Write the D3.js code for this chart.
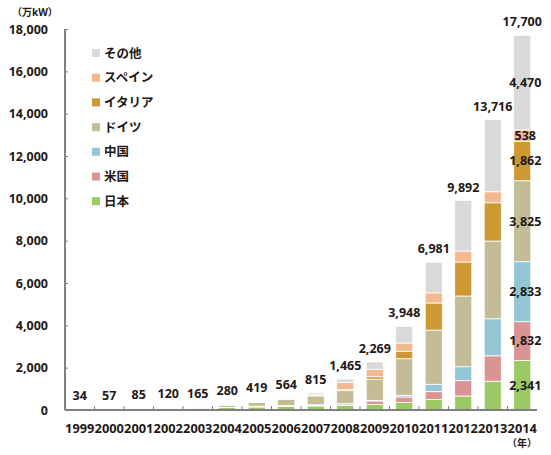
<!DOCTYPE html>
<html>
<head>
<meta charset="utf-8">
<script src="https://cdn.jsdelivr.net/npm/d3@7"></script>
<style>
  body { margin: 0; background: #fff; }
  svg text { font-family: "Open Sans", "Noto Sans CJK JP", sans-serif; font-weight: bold; fill: #231815; }
</style>
</head>
<body>
<svg id="chart" width="551" height="455"></svg>
<script>
// Cumulative PV capacity (万kW)
const years = ["1999","2000","2001","2002","2003","2004","2005","2006","2007","2008","2009","2010","2011","2012","2013","2014"];
const totals = [34, 57, 85, 120, 165, 280, 419, 564, 815, 1465, 2269, 3948, 6981, 9892, 13716, 17700];

const japan   = [21, 33, 45, 64, 86, 113, 142, 171, 192, 214, 263, 362, 491, 663, 1360, 2341];
const usa     = [2, 3, 4, 6, 8, 11, 29, 30, 45, 73, 164, 253, 375, 722, 1200, 1832];
const china   = [0, 0, 0, 0, 0, 0, 7, 8, 10, 14, 30, 80, 350, 660, 1750, 2833];
const germany = [7, 11, 19, 30, 44, 107, 193, 290, 417, 612, 996, 1728, 2560, 3340, 3670, 3825];
const italy   = [1, 2, 2, 2, 3, 3, 4, 5, 12, 46, 118, 350, 1280, 1606, 1810, 1862];
const spain   = [0, 0, 0, 1, 1, 2, 4, 15, 70, 340, 350, 390, 480, 520, 520, 538];
const other   = [3, 8, 15, 17, 23, 44, 40, 45, 69, 166, 348, 785, 1445, 2381, 3406, 4470];

const seriesNames = ["日本", "米国", "中国", "ドイツ", "イタリア", "スペイン", "その他"];
const seriesColors = ["#9bca64", "#d99594", "#92c6d5", "#c4bc96", "#cc9933", "#f4b98e", "#d9d9d9"];
const seriesValues = [japan, usa, china, germany, italy, spain, other];

const yTicks = [0, 2000, 4000, 6000, 8000, 10000, 12000, 14000, 16000, 18000];

const svg = d3.select("#chart");
const margin = { left: 65, right: 14, top: 29, bottom: 45 };
const width = 551 - margin.left - margin.right;
const height = 455 - margin.top - margin.bottom;

const g = svg.append("g").attr("transform", `translate(${margin.left},${margin.top})`);

const x = d3.scaleBand().domain(years).range([0, width]).paddingInner(0.42).paddingOuter(0.21);
const y = d3.scaleLinear().domain([0, 18000]).range([height, 0]);

// build table for the stack
const table = years.map((yr, i) => {
    const row = { year: yr };
    seriesNames.forEach((s, k) => { row[s] = seriesValues[k][i]; });
    return row;
});
const stacked = d3.stack().keys(seriesNames)(table);

// bars
g.selectAll(".layer")
    .data(stacked)
    .enter()
    .append("g")
    .attr("class", "layer")
    .attr("fill", (d, i) => seriesColors[i])
    .selectAll("rect")
    .data(d => d)
    .enter()
    .append("rect")
    .attr("x", d => x(d.data.year))
    .attr("width", x.bandwidth())
    .attr("y", d => y(d[1]))
    .attr("height", d => Math.max(0, y(d[0]) - y(d[1])))
    .attr("stroke", "#fff")
    .attr("stroke-width", 0.8);

// y axis
const yAxis = d3.axisLeft(y).tickValues(yTicks).tickSize(-3).tickFormat(d3.format(",")).tickPadding(17);
const ya = g.append("g").call(yAxis);
ya.select(".domain").attr("stroke", "#808080").attr("stroke-width", 2).attr("d", `M0,0V${height}`);
ya.selectAll(".tick line").attr("stroke", "#808080").attr("stroke-width", 1);
ya.selectAll(".tick text").attr("font-size", "12.5px").attr("fill", "#231815");

// x axis
const xa = g.append("g").attr("transform", `translate(0,${height})`)
    .call(d3.axisBottom(x).tickSize(0).tickPadding(14));
xa.select(".domain").attr("stroke", "#808080").attr("stroke-width", 2).attr("d", `M0,0H${width}`);
xa.selectAll(".tick text").attr("font-size", "12.8px").attr("fill", "#231815");

// boundary ticks on x axis
const step = x.step();
g.append("g").selectAll("line")
    .data(years.slice(1))
    .enter()
    .append("line")
    .attr("x1", d => x(d) - (step - x.bandwidth()) / 2)
    .attr("x2", d => x(d) - (step - x.bandwidth()) / 2)
    .attr("y1", height)
    .attr("y2", height - 4)
    .attr("stroke", "#808080")
    .attr("stroke-width", 1);

// total labels
g.append("g").selectAll("text")
    .data(years)
    .enter()
    .append("text")
    .attr("x", d => x(d) + x.bandwidth() / 2)
    .attr("y", (d, i) => y(totals[i]) - 9)
    .attr("text-anchor", "middle")
    .attr("font-size", "12.5px")
    .text((d, i) => d3.format(",")(totals[i]));

// segment labels for last year
const last = years.length - 1;
g.append("g").selectAll("text")
    .data(stacked)
    .enter()
    .append("text")
    .attr("x", x(years[last]) + x.bandwidth() / 2 + 3)
    .attr("y", d => y((d[last][0] + d[last][1]) / 2))
    .attr("dy", "0.35em")
    .attr("text-anchor", "middle")
    .attr("font-size", "12.5px")
    .text(d => d3.format(",")(d[last].data[d.key]));

// legend
const legendNames = seriesNames.slice().reverse();
const legendColors = seriesColors.slice().reverse();
const legend = svg.append("g").attr("transform", "translate(92,53)");
const items = legend.selectAll("g")
    .data(legendNames)
    .enter()
    .append("g")
    .attr("transform", (d, i) => `translate(0,${i * 24.7})`);
items.append("rect")
    .attr("x", 0).attr("y", -4).attr("width", 8).attr("height", 8)
    .attr("fill", (d, i) => legendColors[i]);
items.append("text")
    .attr("x", 12).attr("y", 0).attr("dy", "0.36em")
    .attr("font-size", "12.5px")
    .text(d => d);

// unit labels
svg.append("text").attr("x", 12).attr("y", 16).attr("font-size", "10px").attr("font-weight", "normal").text("（万kW）");
svg.append("text").attr("x", 522).attr("y", 447).attr("text-anchor", "middle").attr("font-size", "10px").attr("font-weight", "normal").text("（年）");
</script>
</body>
</html>
